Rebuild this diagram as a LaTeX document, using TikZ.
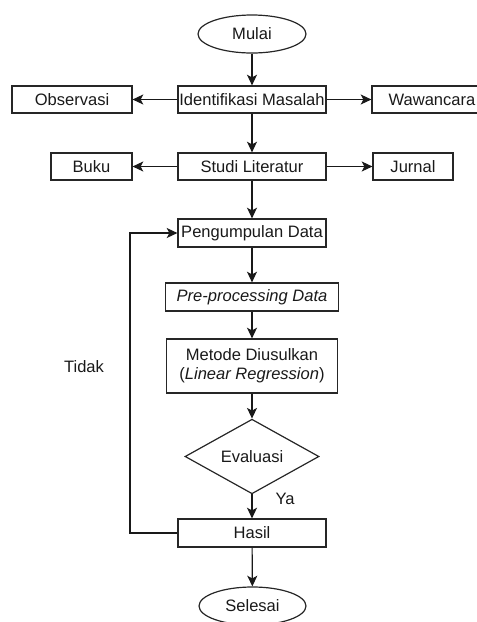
\documentclass[tikz,border=0pt]{standalone}
\usepackage{fontspec}
\setmainfont{Liberation Sans}
\usetikzlibrary{shapes.geometric,arrows.meta}
\begin{document}
\begin{tikzpicture}[x=0.75pt,y=-0.75pt,
  every node/.style={font=\fontsize{12.4}{14.25}\selectfont, text=black!90},
  box/.style={draw=black!85, line width=0.9pt, rectangle, inner sep=0pt, minimum height=20.25pt, align=center},
  term/.style={draw=black!85, line width=0.9pt, ellipse, inner sep=0pt, minimum width=81pt, minimum height=28.5pt},
  dec/.style={draw=black!85, line width=0.9pt, diamond, inner sep=0pt, minimum width=100.5pt, minimum height=48.75pt},
  conn/.style={draw=black!90, line width=0.9pt, -{Stealth[length=8pt,width=7.5pt,inset=2pt]}},
  plain/.style={draw=black!90, line width=0.9pt}]
\useasboundingbox (0,0) rectangle (476,622);
\node[term] (mulai) at (252,34) {Mulai};
\node[box, minimum width=111pt] (idm) at (252,99.5) {Identifikasi Masalah};
\node[box, minimum width=90pt] (obs) at (72,99.5) {Observasi};
\node[box, minimum width=90pt] (waw) at (432,99.5) {Wawancara};
\node[box, minimum width=111pt] (studi) at (252,166.5) {Studi Literatur};
\node[box, minimum width=60.75pt] (buku) at (91.5,166.5) {Buku};
\node[box, minimum width=60pt] (jurnal) at (413,166.5) {Jurnal};
\node[box, minimum width=111pt, minimum height=21pt] (peng) at (252,233) {Pengumpulan Data};
\node[box, minimum width=129.75pt, minimum height=21pt] (pre) at (252,297) {\textit{Pre-processing Data}};
\node[box, minimum width=128.25pt, minimum height=40.5pt] (met) at (252,366) {Metode Diusulkan\\(\textit{Linear Regression})};
\node[dec] (eval) at (252,456.5) {Evaluasi};
\node[box, minimum width=111pt, minimum height=21pt] (hasil) at (252,533) {Hasil};
\node[term, minimum width=80.25pt] (selesai) at (252.5,606) {Selesai};
\node (tidak) at (84,367) {Tidak};
\node (ya) at (285,499) {Ya};
\coordinate (lb) at (130,533);
\coordinate (lt) at (130,233);
\draw[conn] (mulai) -- (idm);
\draw[conn] (idm) -- (obs);
\draw[conn] (idm) -- (waw);
\draw[conn] (idm) -- (studi);
\draw[conn] (studi) -- (buku);
\draw[conn] (studi) -- (jurnal);
\draw[conn] (studi) -- (peng);
\draw[conn] (peng) -- (pre);
\draw[conn] (pre) -- (met);
\draw[conn] (met) -- (eval);
\draw[conn] (eval) -- (hasil);
\draw[conn] (hasil) -- (selesai);
\draw[conn] (hasil.west) -- (lb) -- (lt) -- (peng.west);
\end{tikzpicture}
\end{document}
